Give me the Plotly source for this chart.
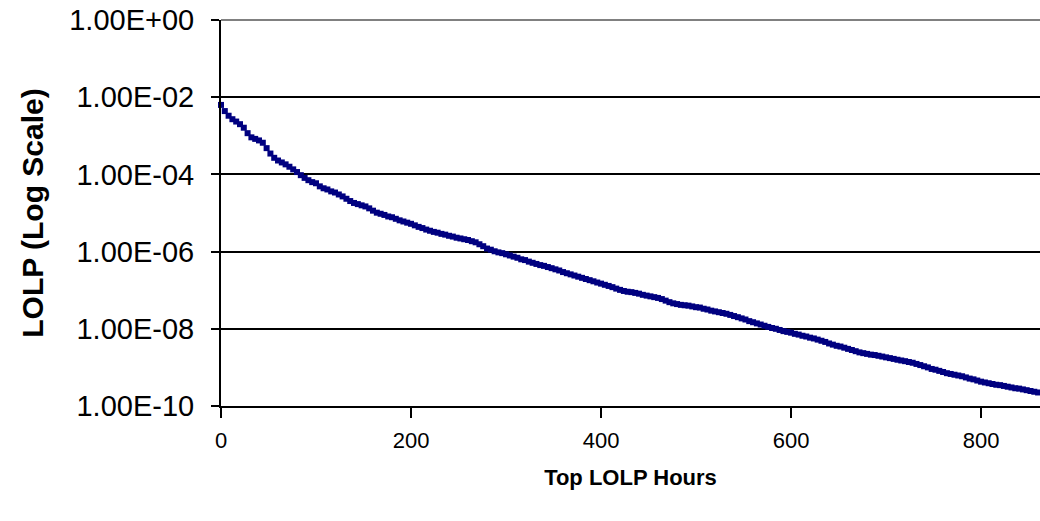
import plotly.graph_objects as go

# hour rank (every 4th hour) and LOLP
hours = list(range(0, 861, 4))
lolp = [
    6.31e-3, 4.37e-3, 3.31e-3, 2.69e-3, 2.34e-3, 2.00e-3, 1.62e-3, 1.17e-3,
    9.12e-4, 8.32e-4, 7.59e-4, 6.61e-4, 4.79e-4, 3.47e-4, 2.69e-4, 2.29e-4,
    2.04e-4, 1.82e-4, 1.58e-4, 1.35e-4, 1.15e-4, 9.55e-5, 8.13e-5, 7.08e-5,
    6.31e-5, 5.89e-5, 4.90e-5, 4.37e-5, 4.07e-5, 3.63e-5, 3.39e-5, 3.02e-5,
    2.69e-5, 2.34e-5, 2.04e-5, 1.82e-5, 1.70e-5, 1.58e-5, 1.48e-5, 1.32e-5,
    1.15e-5, 1.02e-5, 9.55e-6, 8.91e-6, 8.13e-6, 7.76e-6, 7.08e-6, 6.46e-6,
    6.03e-6, 5.62e-6, 5.25e-6, 4.79e-6, 4.37e-6, 4.07e-6, 3.72e-6, 3.47e-6,
    3.24e-6, 3.09e-6, 2.88e-6, 2.75e-6, 2.57e-6, 2.45e-6, 2.29e-6, 2.19e-6,
    2.09e-6, 2.00e-6, 1.86e-6, 1.74e-6, 1.55e-6, 1.38e-6, 1.20e-6, 1.12e-6,
    1.02e-6, 9.55e-7, 9.12e-7, 8.51e-7, 7.94e-7, 7.41e-7, 6.92e-7, 6.31e-7,
    6.03e-7, 5.50e-7, 5.13e-7, 4.79e-7, 4.47e-7, 4.27e-7, 3.98e-7, 3.72e-7,
    3.47e-7, 3.24e-7, 2.95e-7, 2.75e-7, 2.57e-7, 2.40e-7, 2.24e-7, 2.09e-7,
    1.95e-7, 1.82e-7, 1.70e-7, 1.58e-7, 1.48e-7, 1.38e-7, 1.29e-7, 1.20e-7,
    1.10e-7, 1.02e-7, 9.55e-8, 9.12e-8, 8.91e-8, 8.51e-8, 8.13e-8, 7.59e-8,
    7.24e-8, 6.92e-8, 6.61e-8, 6.31e-8, 5.89e-8, 5.37e-8, 4.90e-8, 4.57e-8,
    4.37e-8, 4.17e-8, 4.07e-8, 3.98e-8, 3.80e-8, 3.63e-8, 3.55e-8, 3.31e-8,
    3.16e-8, 2.95e-8, 2.82e-8, 2.69e-8, 2.57e-8, 2.45e-8, 2.29e-8, 2.14e-8,
    2.00e-8, 1.86e-8, 1.74e-8, 1.58e-8, 1.48e-8, 1.38e-8, 1.29e-8, 1.20e-8,
    1.12e-8, 1.05e-8, 1.00e-8, 9.33e-9, 8.71e-9, 8.32e-9, 7.94e-9, 7.41e-9,
    7.08e-9, 6.61e-9, 6.31e-9, 5.89e-9, 5.62e-9, 5.25e-9, 4.90e-9, 4.57e-9,
    4.17e-9, 3.89e-9, 3.63e-9, 3.47e-9, 3.24e-9, 3.02e-9, 2.82e-9, 2.63e-9,
    2.45e-9, 2.34e-9, 2.24e-9, 2.14e-9, 2.09e-9, 2.00e-9, 1.91e-9, 1.82e-9,
    1.74e-9, 1.66e-9, 1.58e-9, 1.51e-9, 1.45e-9, 1.38e-9, 1.32e-9, 1.23e-9,
    1.15e-9, 1.07e-9, 1.00e-9, 9.12e-10, 8.71e-10, 8.13e-10, 7.59e-10, 7.08e-10,
    6.76e-10, 6.46e-10, 6.17e-10, 5.89e-10, 5.50e-10, 5.13e-10, 4.90e-10, 4.57e-10,
    4.27e-10, 4.07e-10, 3.89e-10, 3.72e-10, 3.55e-10, 3.47e-10, 3.31e-10, 3.16e-10,
    3.02e-10, 2.88e-10, 2.82e-10, 2.69e-10, 2.57e-10, 2.45e-10, 2.34e-10, 2.24e-10,
]

y_ticks = [1, 1e-2, 1e-4, 1e-6, 1e-8, 1e-10]
y_labels = ["1.00E+00", "1.00E-02", "1.00E-04", "1.00E-06", "1.00E-08", "1.00E-10"]
x_ticks = [0, 200, 400, 600, 800]

font = "Liberation Sans, Arial, sans-serif"

fig = go.Figure(go.Scatter(
    x=hours, y=lolp, mode="markers",
    marker=dict(symbol="square", size=6, color="#000080", line=dict(width=0)),
    showlegend=False, cliponaxis=False,
))

fig.update_layout(
    width=1040, height=521,
    margin=dict(l=221, r=0, t=20, b=115),
    paper_bgcolor="white", plot_bgcolor="white",
    font=dict(family=font, size=22, color="black"),
)

# gray frame line on top of the plot area
fig.add_shape(type="line", xref="paper", yref="paper", x0=0, x1=1, y0=1, y1=1,
              line=dict(color="#808080", width=2), layer="below")

fig.update_xaxes(
    range=[0, 862], tickvals=x_ticks, automargin=False,
    showgrid=False, zeroline=False,
    showline=True, linecolor="black", linewidth=2,
    ticks="outside", ticklen=10, tickwidth=2, tickcolor="black",
    ticklabelstandoff=4,
    title=dict(text="<b>Top LOLP Hours</b>", font=dict(size=22), standoff=17),
    tickfont=dict(size=22),
)
fig.update_yaxes(
    type="log", range=[-10, 0], tickvals=y_ticks, ticktext=y_labels,
    automargin=False,
    showgrid=True, gridcolor="black", gridwidth=2,
    zeroline=False,
    showline=True, linecolor="black", linewidth=2,
    ticks="outside", ticklen=8, tickwidth=2, tickcolor="black",
    ticklabelstandoff=11,
    title=dict(text="<b>LOLP (Log Scale)</b>", font=dict(size=30), standoff=17),
    tickfont=dict(size=29),
)

# drop the default page margin so the figure fills the window exactly
fig.write_html("out.html", config={"displayModeBar": False},
               post_script="document.body.style.margin='0';")
